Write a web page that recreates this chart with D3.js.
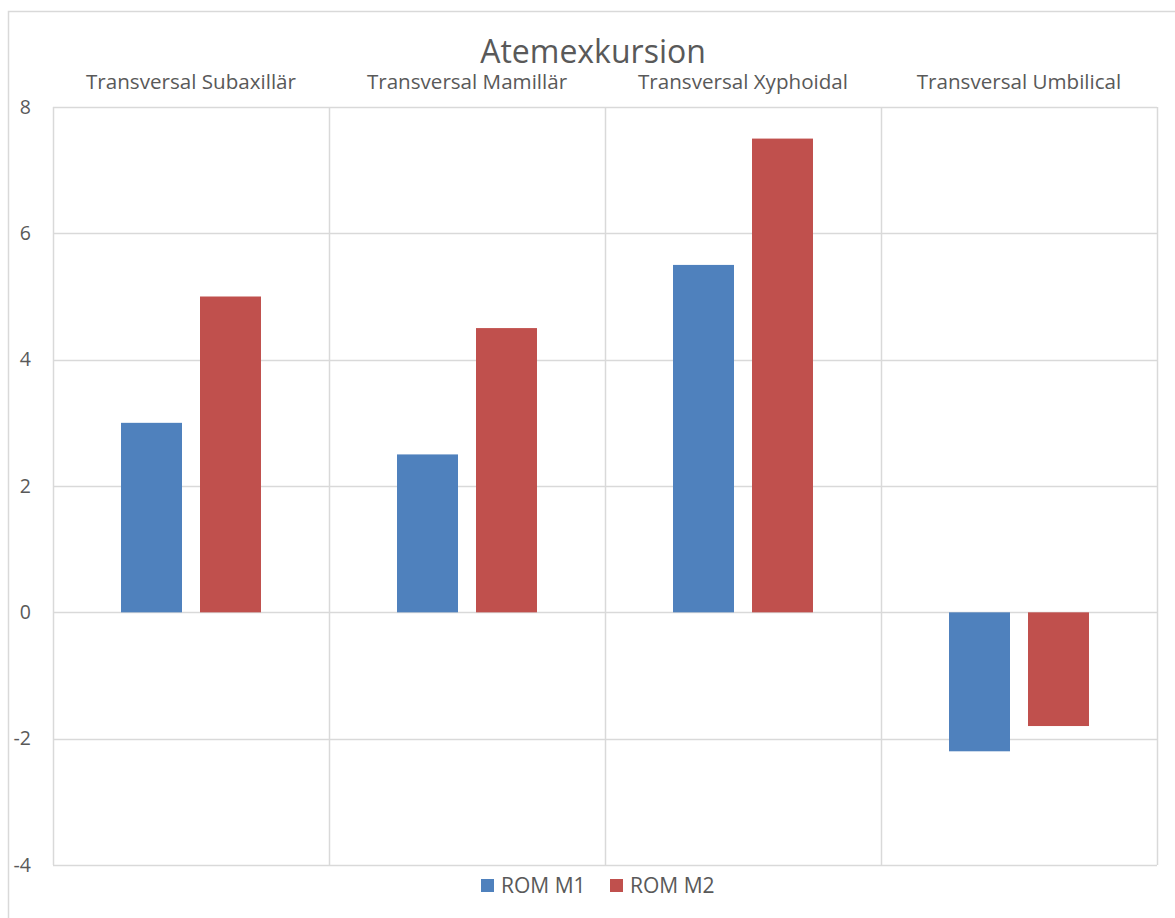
<!DOCTYPE html>
<html>
<head>
<meta charset="utf-8">
<script src="https://cdn.jsdelivr.net/npm/d3@7"></script>
<style>
  body { margin: 0; background: #fff; }
  text { font-family: "Open Sans", "Noto Sans", sans-serif; fill: #595959; }
</style>
</head>
<body>
<svg id="chart" width="1175" height="918"></svg>
<script>
// Data
const title = "Atemexkursion";
const categories = ["Transversal Subaxillär", "Transversal Mamillär", "Transversal Xyphoidal", "Transversal Umbilical"];
const seriesNames = ["ROM M1", "ROM M2"];
const romM1 = [3, 2.5, 5.5, -2.2];
const romM2 = [5, 4.5, 7.5, -1.8];
const yTicks = [-4, -2, 0, 2, 4, 6, 8];
const colors = ["#4F81BD", "#C0504D"];

const svg = d3.select("#chart");
const W = 1175, H = 918;
const plot = { left: 53, right: 1157, top: 107, bottom: 865 };
const grid = "#D9D9D9";

// Outer chart frame
svg.append("rect")
  .attr("x", 8.5).attr("y", 11.5)
  .attr("width", W).attr("height", H)
  .attr("fill", "#fff").attr("stroke", grid).attr("stroke-width", 1.5);

const x0 = d3.scaleBand().domain(categories).range([plot.left, plot.right]);
const x1 = d3.scaleBand().domain(seriesNames)
  .range([0, x0.bandwidth()])
  .paddingInner(0.228).paddingOuter(0.861);
const y = d3.scaleLinear().domain([-4, 8]).range([plot.bottom, plot.top]);

// Horizontal gridlines
svg.append("g").selectAll("line").data(yTicks).join("line")
  .attr("x1", plot.left).attr("x2", plot.right)
  .attr("y1", d => Math.round(y(d)) + 0.5).attr("y2", d => Math.round(y(d)) + 0.5)
  .attr("stroke", grid).attr("stroke-width", 1.5);

// Vertical category separators
const seps = categories.map(c => x0(c)).concat([plot.right]);
svg.append("g").selectAll("line").data(seps).join("line")
  .attr("x1", d => Math.round(d) + 0.5).attr("x2", d => Math.round(d) + 0.5)
  .attr("y1", plot.top).attr("y2", plot.bottom)
  .attr("stroke", grid).attr("stroke-width", 1.5);

// Bars
const rows = categories.map((c, i) => ({ cat: c, vals: [romM1[i], romM2[i]] }));
const groups = svg.append("g").selectAll("g").data(rows).join("g")
  .attr("transform", d => `translate(${x0(d.cat)},0)`);
groups.selectAll("rect")
  .data(d => d.vals.map((v, j) => ({ name: seriesNames[j], v, j })))
  .join("rect")
  .attr("x", d => x1(d.name))
  .attr("width", x1.bandwidth())
  .attr("y", d => Math.min(y(d.v), y(0)))
  .attr("height", d => Math.abs(y(d.v) - y(0)))
  .attr("fill", d => colors[d.j]);

// Y axis labels
svg.append("g").selectAll("text").data(yTicks).join("text")
  .attr("x", 31).attr("y", d => y(d))
  .attr("dy", "0.35em")
  .attr("text-anchor", "end")
  .attr("font-size", 19.5)
  .text(d => d);

// Category labels above the plot
svg.append("g").selectAll("text").data(categories).join("text")
  .attr("x", d => x0(d) + x0.bandwidth() / 2)
  .attr("y", 89)
  .attr("text-anchor", "middle")
  .attr("font-size", 20.6)
  .text(d => d);

// Title
svg.append("text")
  .attr("x", 593).attr("y", 63)
  .attr("text-anchor", "middle")
  .attr("font-size", 32)
  .text(title);

// Legend
const legend = svg.append("g");
const legendX = [481, 610];
seriesNames.forEach((s, i) => {
  legend.append("rect")
    .attr("x", legendX[i]).attr("y", 879)
    .attr("width", 13).attr("height", 13)
    .attr("fill", colors[i]);
  legend.append("text")
    .attr("x", legendX[i] + 20).attr("y", 886)
    .attr("dy", "0.35em")
    .attr("font-size", 21)
    .text(s);
});
</script>
</body>
</html>
